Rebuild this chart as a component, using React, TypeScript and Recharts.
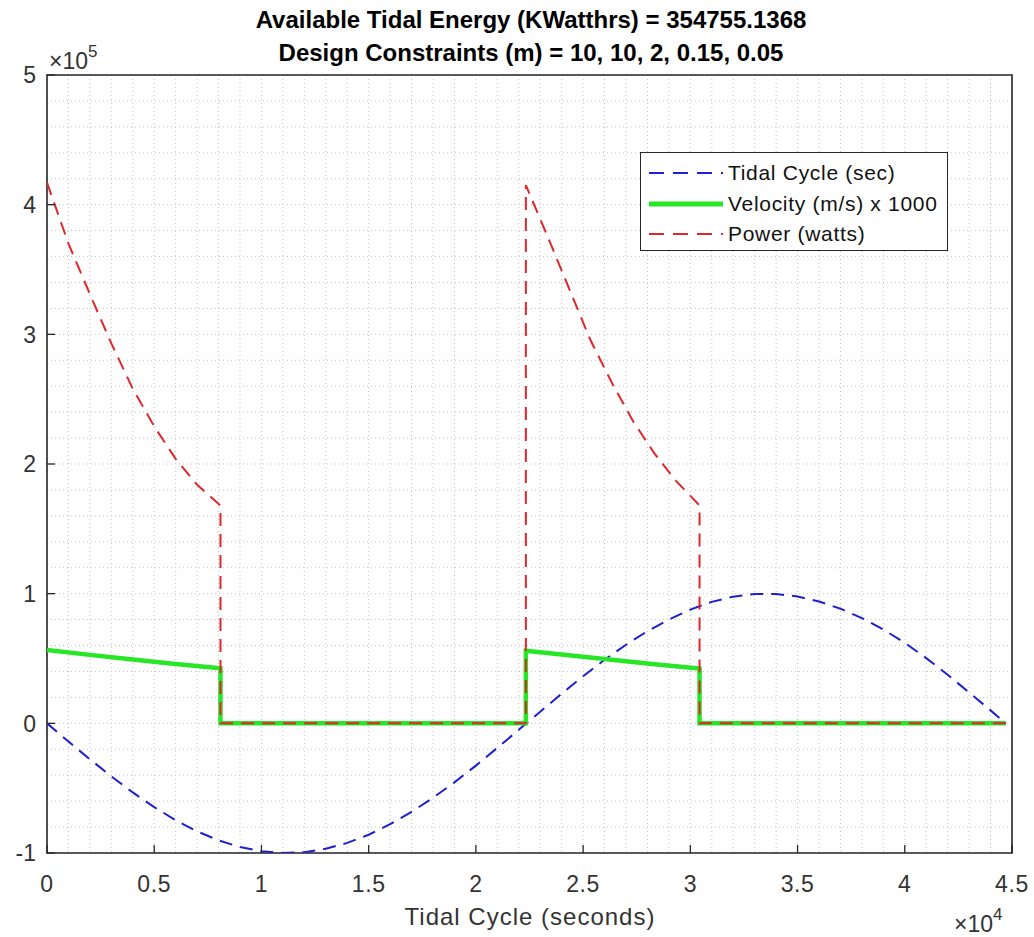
import React from 'react';
import { LineChart, Line, XAxis, YAxis, CartesianGrid, ReferenceArea, Legend } from 'recharts';

const W = 1034;
const H = 937;
const PLOT_LEFT = 47;
const PLOT_TOP = 75;
const PLOT_RIGHT = 1012;
const PLOT_BOTTOM = 853;
const AXIS = '#262626';
const LABEL = '#333333';
const FONT = '"Liberation Sans", Arial, Helvetica, sans-serif';

// axis ticks (seconds / watts)
const xTicks = [0, 5000, 10000, 15000, 20000, 25000, 30000, 35000, 40000, 45000];
const xTickLabels = ['0', '0.5', '1', '1.5', '2', '2.5', '3', '3.5', '4', '4.5'];
const yTicks = [-100000, 0, 100000, 200000, 300000, 400000, 500000];
const yTickLabels = ['-1', '0', '1', '2', '3', '4', '5'];
// minor grid every 1000 s and every 0.2e5
const xMinor = Array.from({ length: 46 }, (_, i) => i * 1000);
const yMinor = Array.from({ length: 31 }, (_, i) => -100000 + i * 20000);

// Tidal cycle (sec)
const tideTime = [
  0, 1000, 2000, 3000, 4000, 5000, 6000, 7000, 8000, 9000, 10000, 11000, 12000, 13000, 14000,
  15000, 16000, 17000, 18000, 19000, 20000, 21000, 22000, 23000, 24000, 25000, 26000, 27000,
  28000, 29000, 30000, 31000, 32000, 33000, 34000, 35000, 36000, 37000, 38000, 39000, 40000,
  41000, 42000, 43000, 44000, 44712,
];
const tideValue = [
  0, -14000, -27700, -40900, -53300, -64600, -74700, -83300, -90200, -95400, -98600, -100000,
  -99400, -96700, -92200, -85900, -77800, -68300, -57400, -45500, -32600, -18900, -5000, 9000,
  22900, 36300, 49000, 60600, 71100, 80000, 87700, 93700, 97700, 99800, 99800, 97800, 94000,
  88400, 81200, 72400, 62100, 50300, 37500, 23800, 10000, 0,
];

// Velocity (m/s) x 1000
const velTime = [0, 2000, 4000, 6000, 8090, 8090, 22330, 22330, 24330, 26330, 28330, 30430, 30430, 44712];
const velValue = [56500, 52800, 49300, 45800, 42500, 0, 0, 56000, 52500, 49000, 45600, 42300, 0, 0];

// Power (watts)
const powTime = [
  0, 1000, 2000, 3000, 4000, 5000, 6000, 7000, 8090, 8090, 22330, 22330, 23330, 24330, 25330,
  26330, 27330, 28330, 29330, 30430, 30430, 44712,
];
const powValue = [
  417000, 370000, 331000, 293000, 258000, 229000, 204000, 184000, 168000, 0, 0, 415000, 376000,
  336000, 296000, 263000, 233000, 208000, 187000, 168000, 0, 0,
];

const zip = (ts: number[], vs: number[]) => ts.map((t, i) => ({ t, v: vs[i] }));

const series = [
  { name: 'Tidal Cycle (sec)', color: '#1e1ed2', width: 2, dash: '13 8', legendWidth: 2, legendDash: '15 9', data: zip(tideTime, tideValue) },
  { name: 'Velocity (m/s) x 1000', color: '#26e626', width: 4.5, dash: undefined, legendWidth: 5, legendDash: undefined, data: zip(velTime, velValue) },
  { name: 'Power (watts)', color: '#e0262b', width: 2, dash: '13 8', legendWidth: 2, legendDash: '15 9', data: zip(powTime, powValue) },
];

const BottomTick = ({ x, payload }: any) => (
  <g>
    <line x1={x} x2={x} y1={PLOT_BOTTOM} y2={PLOT_BOTTOM - 8} stroke={AXIS} strokeWidth={1.3} />
    <text x={x} y={892} textAnchor="middle" fontSize={23} letterSpacing={0.6} fill={LABEL} fontFamily={FONT}>
      {xTickLabels[xTicks.indexOf(payload.value)]}
    </text>
  </g>
);

const TopTick = ({ x }: any) => (
  <line x1={x} x2={x} y1={PLOT_TOP} y2={PLOT_TOP + 8} stroke={AXIS} strokeWidth={1.3} />
);

const LeftTick = ({ y, payload }: any) => (
  <g>
    <line x1={PLOT_LEFT} x2={PLOT_LEFT + 8} y1={y} y2={y} stroke={AXIS} strokeWidth={1.3} />
    <text x={36} y={y} dy="0.36em" textAnchor="end" fontSize={23} fill={LABEL} fontFamily={FONT}>
      {yTickLabels[yTicks.indexOf(payload.value)]}
    </text>
  </g>
);

const RightTick = ({ y }: any) => (
  <line x1={PLOT_RIGHT} x2={PLOT_RIGHT - 8} y1={y} y2={y} stroke={AXIS} strokeWidth={1.3} />
);

const LegendBox = () => (
  <div
    style={{
      width: 308, height: 99, boxSizing: 'border-box', border: `1.5px solid ${AXIS}`,
      background: '#fff', padding: '5px 0 0 8px', fontFamily: FONT,
    }}
  >
    {series.map((s) => (
      <div key={s.name} style={{ display: 'flex', alignItems: 'center', height: 30.5 }}>
        <svg width={74} height={10} style={{ display: 'block' }}>
          <line x1={0} x2={74} y1={5} y2={5} stroke={s.color} strokeWidth={s.legendWidth} strokeDasharray={s.legendDash} />
        </svg>
        <span style={{ marginLeft: 5, fontSize: 21, color: '#111', letterSpacing: 0.7, whiteSpace: 'nowrap' }}>{s.name}</span>
      </div>
    ))}
  </div>
);

export default function App() {
  return (
    <div style={{ position: 'absolute', left: 0, top: 0, width: W, height: H, background: '#fff' }}>
      <LineChart
        width={W}
        height={H}
        margin={{ top: PLOT_TOP, right: W - PLOT_RIGHT, bottom: 24, left: 7 }}
      >
        <CartesianGrid verticalValues={xMinor} horizontalValues={yMinor} stroke="#c4c4c4" strokeDasharray="1 3" />
        <XAxis
          dataKey="t" type="number" domain={[0, 45000]} ticks={xTicks} allowDataOverflow
          height={60} axisLine={false} tickLine={false} tick={<BottomTick />} interval={0}
        />
        <XAxis
          xAxisId="top" orientation="top" dataKey="t" type="number" domain={[0, 45000]} ticks={xTicks}
          height={0} axisLine={false} tickLine={false} tick={<TopTick />} interval={0}
        />
        <YAxis
          type="number" domain={[-100000, 500000]} ticks={yTicks} allowDataOverflow
          width={40} axisLine={false} tickLine={false} tick={<LeftTick />} interval={0}
        />
        <YAxis
          yAxisId="right" orientation="right" type="number" domain={[-100000, 500000]} ticks={yTicks}
          width={0} axisLine={false} tickLine={false} tick={<RightTick />} interval={0}
        />
        {series.map((s) => (
          <Line
            key={s.name}
            data={s.data}
            dataKey="v"
            name={s.name}
            type="linear"
            stroke={s.color}
            strokeWidth={s.width}
            strokeDasharray={s.dash}
            dot={false}
            activeDot={false}
            isAnimationActive={false}
          />
        ))}
        <ReferenceArea x1={0} x2={45000} y1={-100000} y2={500000} fill="none" stroke={AXIS} strokeWidth={1.6} />
        <Legend
          layout="vertical" align="center" verticalAlign="middle"
          wrapperStyle={{ left: 640, top: 152, width: 308, height: 99 }}
          content={<LegendBox />}
        />
      </LineChart>
      <svg width={W} height={H} style={{ position: 'absolute', left: 0, top: 0, pointerEvents: 'none' }}>
        <g fontFamily={FONT}>
          <text x={531} y={28} textAnchor="middle" fontSize={24} fontWeight="bold" fill="#000">
            Available Tidal Energy (KWatthrs) = 354755.1368
          </text>
          <text x={531} y={61} textAnchor="middle" fontSize={24} fontWeight="bold" fill="#000">
            Design Constraints (m) = 10, 10, 2, 0.15, 0.05
          </text>
          <text x={49} y={69} fontSize={23} fill={LABEL}>
            ×10<tspan dy={-12} fontSize={17}>5</tspan>
          </text>
          <text x={954} y={932} fontSize={23} fill={LABEL}>
            ×10<tspan dy={-12} fontSize={17}>4</tspan>
          </text>
          <text x={530} y={925} textAnchor="middle" fontSize={24} fill={LABEL} letterSpacing={1}>
            Tidal Cycle (seconds)
          </text>
        </g>
      </svg>
    </div>
  );
}
